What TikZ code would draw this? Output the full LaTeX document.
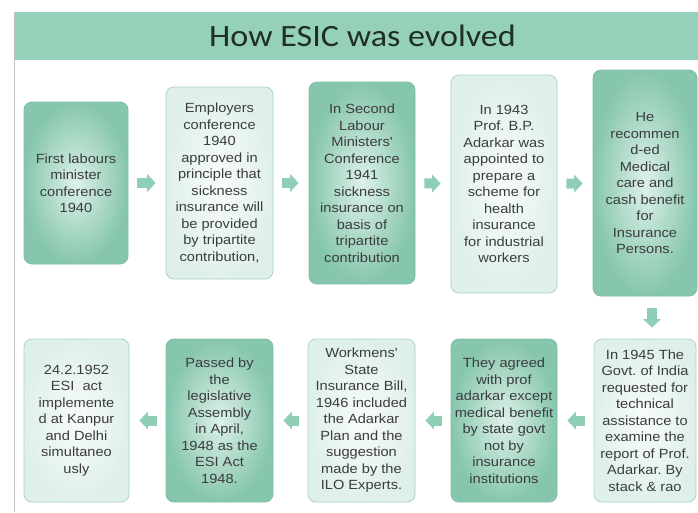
\documentclass[tikz,border=0pt]{standalone}
\usepackage{fontspec}
\newfontfamily\boxfont{Liberation Sans}[FakeStretch=1.1]
\newfontfamily\titlefont{Carlito}[FakeStretch=1.1]
\usetikzlibrary{arrows.meta,calc}
\frenchspacing
\definecolor{barcol}{HTML}{95D1B9}
\definecolor{darkedge}{HTML}{86C6AD}
\definecolor{darkin}{HTML}{DDF1E8}
\definecolor{darkline}{HTML}{7DBFA5}
\definecolor{lightin}{HTML}{F8FCFA}
\definecolor{lightedge}{HTML}{DFF0E8}
\definecolor{lightline}{HTML}{A9D4C2}
\definecolor{arrowcol}{HTML}{8FCFB5}
\definecolor{txt}{HTML}{3C3C3C}
\definecolor{titletxt}{HTML}{1F2F28}
\tikzset{
  box/.style={rounded corners=8pt, inner sep=0pt, align=center, text=txt,
    font=\boxfont\frenchspacing\fontsize{13.3}{16.5}\selectfont, line width=0.8pt},
  darkbox/.style={box, draw=darkline, inner color=darkin, outer color=darkedge},
  lightbox/.style={box, draw=lightline, inner color=lightin, outer color=lightedge},
  flow/.style={draw=arrowcol, line width=10pt,
    -{Triangle[width=18pt,length=8.5pt,line width=0pt,fill=arrowcol]},
    shorten <=9pt, shorten >=10pt}
}
\begin{document}
\begin{tikzpicture}[x=1pt,y=-1pt]
\useasboundingbox (0,0) rectangle (698,512);
\fill[white] (0,0) rectangle (698,512);
% title bar
\fill[barcol] (14,12) rectangle (698,60);
\draw[gray!50, line width=1pt] (14,12) -- (14,512);
\node[font=\titlefont\fontsize{31}{36}\selectfont, text=titletxt] (title) at (362.5,36) {How ESIC was evolved};
% top row
\node[darkbox, minimum width=104pt, minimum height=162pt] (b1) at (76,183)
  {First labours\\minister\\conference\\1940};
\node[lightbox, minimum width=107pt, minimum height=192pt] (b2) at (219.5,183)
  {Employers\\conference\\1940\\approved in\\principle that\\sickness\\insurance will\\be provided\\by tripartite\\contribution,};
\node[darkbox, minimum width=106pt, minimum height=202pt] (b3) at (362,183)
  {In Second\\Labour\\Ministers'\\Conference\\1941\\sickness\\insurance on\\basis of\\tripartite\\contribution};
\node[lightbox, minimum width=106pt, minimum height=218pt] (b4) at (504,184)
  {In 1943\\Prof. B.P.\\Adarkar was\\appointed to\\prepare a\\scheme for\\health\\insurance\\for industrial\\workers};
\node[darkbox, minimum width=104pt, minimum height=226pt] (b5) at (645,183)
  {He\\recommen\\d-ed\\Medical\\care and\\cash benefit\\for\\Insurance\\Persons.};
% bottom row
\node[lightbox, minimum width=102pt, minimum height=163pt] (b10) at (645,420.5)
  {In 1945 The\\Govt. of India\\requested for\\technical\\assistance to\\examine the\\report of Prof.\\Adarkar. By\\stack \& rao};
\node[darkbox, minimum width=106pt, minimum height=163pt] (b9) at (504,420.5)
  {They agreed\\with prof\\adarkar except\\medical benefit\\by state govt\\not by\\insurance\\institutions};
\node[lightbox, minimum width=107pt, minimum height=163pt] (b8) at (361.5,420.5)
  {Workmens'\\State\\Insurance Bill,\\1946 included\\the Adarkar\\Plan and the\\suggestion\\made by the\\ILO Experts.};
\node[darkbox, minimum width=107pt, minimum height=163pt] (b7) at (219.5,420.5)
  {Passed by\\the\\legislative\\Assembly\\in April,\\1948 as the\\ESI Act\\1948.};
\node[lightbox, minimum width=105pt, minimum height=163pt] (b6) at (76.5,420.5)
  {24.2.1952\\ESI\ \ act\\implemente\\d at Kanpur\\and Delhi\\simultaneo\\usly};
% arrows
\draw[flow] (b1) -- (b2);
\draw[flow] (b2) -- (b3);
\draw[flow] (b3) -- (b4);
\draw[flow] (b4) -- (b5);
\draw[flow, shorten <=12pt, shorten >=11pt] ([xshift=7pt]b5.south) -- ([xshift=7pt]b10.north);
\draw[flow] (b10) -- (b9);
\draw[flow] (b9) -- (b8);
\draw[flow] (b8) -- (b7);
\draw[flow] (b7) -- (b6);
\end{tikzpicture}
\end{document}
